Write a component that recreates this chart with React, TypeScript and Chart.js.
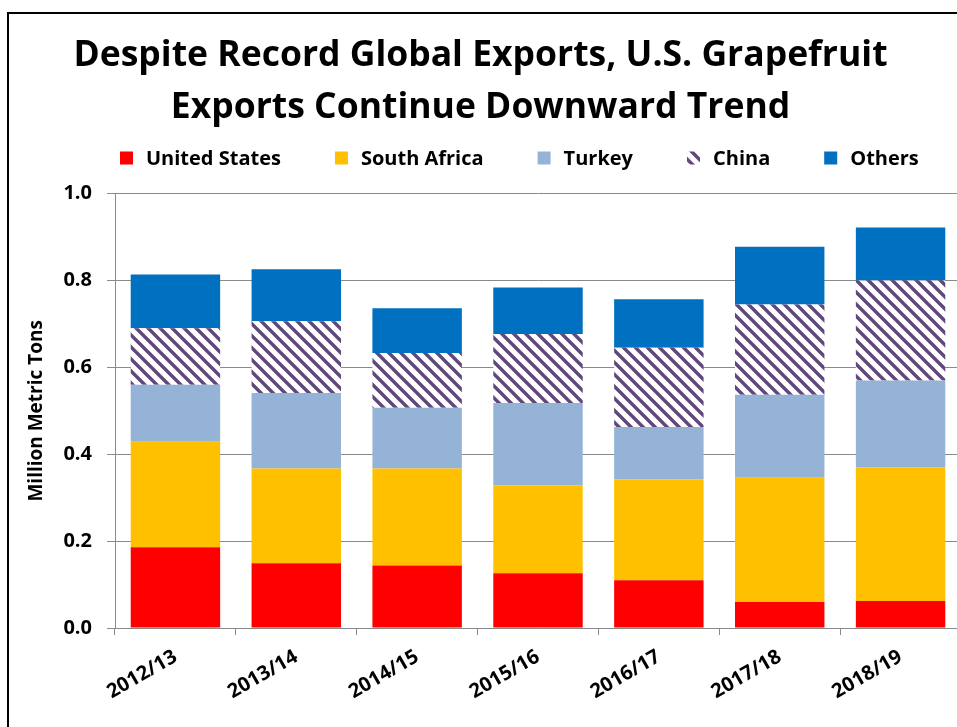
import React, { useEffect, useRef } from "react";
import { Chart, registerables } from "chart.js";

Chart.register(...registerables);

const categories = ["2012/13", "2013/14", "2014/15", "2015/16", "2016/17", "2017/18", "2018/19"];
const unitedStates = [0.186, 0.149, 0.144, 0.126, 0.11, 0.06, 0.062];
const southAfrica = [0.243, 0.218, 0.223, 0.202, 0.232, 0.286, 0.308];
const turkey = [0.131, 0.174, 0.14, 0.19, 0.121, 0.191, 0.2];
const china = [0.13, 0.165, 0.126, 0.159, 0.182, 0.208, 0.23];
const others = [0.124, 0.12, 0.103, 0.107, 0.112, 0.133, 0.122];
const yTicks = [0, 0.2, 0.4, 0.6, 0.8, 1.0];
const titleLines = ["Despite Record Global Exports, U.S. Grapefruit", "Exports Continue Downward Trend"];
const seriesNames = ["United States", "South Africa", "Turkey", "China", "Others"];
const yAxisTitle = "Million Metric Tons";

const FONT = "'Open Sans', Lato, sans-serif";
const GRID = "#8a8a8a";

function makeHatch(): CanvasPattern | string {
  const s = 12;
  const c = document.createElement("canvas");
  c.width = s;
  c.height = s;
  const g = c.getContext("2d");
  if (!g) return "#60497A";
  g.fillStyle = "#ffffff";
  g.fillRect(0, 0, s, s);
  g.strokeStyle = "#60497A";
  g.lineWidth = 3.4;
  g.lineCap = "square";
  g.beginPath();
  g.moveTo(-s, -s);
  g.lineTo(2 * s, 2 * s);
  g.moveTo(-s, 0);
  g.lineTo(s, 2 * s);
  g.moveTo(0, -s);
  g.lineTo(2 * s, s);
  g.stroke();
  const p = g.createPattern(c, "repeat");
  return p || "#60497A";
}

export default function App() {
  const ref = useRef<HTMLCanvasElement>(null);

  useEffect(() => {
    const canvas = ref.current;
    if (!canvas) return;
    const hatch = makeHatch();
    const colors: any[] = ["#FF0000", "#FFC000", "#95B3D7", hatch, "#0070C0"];
    const values = [unitedStates, southAfrica, turkey, china, others];

    const legendPlugin = {
      id: "excelLegend",
      afterDraw(chart: any) {
        const ctx = chart.ctx;
        ctx.save();
        ctx.font = `bold 20px ${FONT}`;
        ctx.textBaseline = "middle";
        ctx.textAlign = "left";
        const cy = 158;
        let x = 120;
        const box = 13;
        seriesNames.forEach((name, i) => {
          ctx.fillStyle = colors[i];
          ctx.fillRect(x, cy - box / 2, box, box);
          ctx.fillStyle = "#000";
          ctx.fillText(name, x + 26, cy + 1);
          x += 26 + ctx.measureText(name).width + 54;
        });
        ctx.restore();
      },
    };

    const chart = new Chart(canvas, {
      type: "bar",
      data: {
        labels: categories,
        datasets: seriesNames.map((name, i) => ({
          label: name,
          data: values[i],
          backgroundColor: colors[i],
          borderWidth: 0,
          barPercentage: 0.74,
          categoryPercentage: 1,
        })),
      },
      options: {
        responsive: false,
        animation: false,
        layout: { padding: { left: 0, right: 19, top: 0, bottom: 0 } },
        plugins: {
          legend: { display: false },
          tooltip: { enabled: false },
          title: {
            display: true,
            text: titleLines,
            color: "#000",
            font: { family: FONT, size: 35.5, weight: "bold", lineHeight: 1.46 },
            padding: { top: 30, bottom: 60 },
          },
        },
        scales: {
          x: {
            stacked: true,
            offset: true,
            grid: { display: true, drawOnChartArea: false, offset: true, tickLength: 7, color: GRID },
            border: { color: GRID },
            ticks: {
              color: "#000",
              font: { family: FONT, size: 20, weight: "bold" },
              minRotation: 30,
              maxRotation: 30,
              padding: 10,
              autoSkip: false,
            },
            afterFit: (s: any) => {
              s.height = 112;
            },
          },
          y: {
            stacked: true,
            min: 0,
            max: 1,
            grid: { color: GRID, tickLength: 8 },
            border: { color: GRID },
            afterBuildTicks: (s: any) => {
              s.ticks = yTicks.map((v) => ({ value: v }));
            },
            ticks: {
              color: "#000",
              font: { family: FONT, size: 20, weight: "bold" },
              padding: 15,
              callback: (v: any) => Number(v).toFixed(1),
            },
            title: {
              display: true,
              text: yAxisTitle,
              color: "#000",
              font: { family: FONT, size: 19, weight: "bold" },
              padding: { top: 25, bottom: 0 },
            },
            afterFit: (s: any) => {
              s.width = 115;
            },
          },
        },
      },
      plugins: [legendPlugin],
    });
    return () => chart.destroy();
  }, []);

  return (
    <div>
      <div
        style={{
          position: "fixed",
          left: 7,
          top: 12,
          width: 1000,
          height: 1000,
          border: "2px solid #000",
          boxSizing: "border-box",
        }}
      />
      <canvas
        ref={ref}
        width={980}
        height={740}
        style={{ position: "fixed", left: 0, top: 0, width: 980, height: 740 }}
      />
    </div>
  );
}
